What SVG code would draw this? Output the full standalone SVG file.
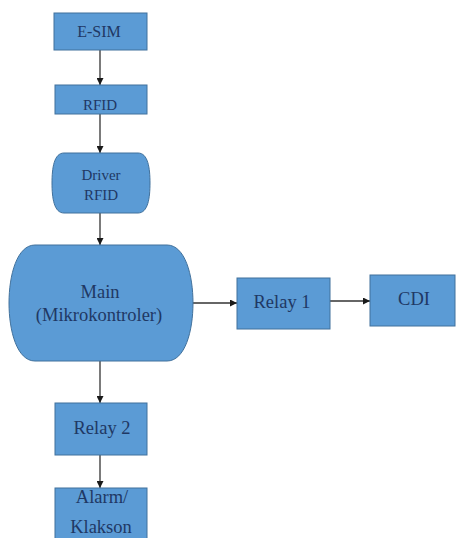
<svg xmlns="http://www.w3.org/2000/svg" width="458" height="538" viewBox="0 0 458 538">
<defs>
<marker id="ah" viewBox="0 0 10 10" refX="10" refY="5" markerWidth="7" markerHeight="7" markerUnits="userSpaceOnUse" orient="auto">
<path d="M0,0 L10,5 L0,10 Z" fill="#1a1a1a"/>
</marker>
<style>
.n{fill:#5b9bd5;stroke:#41719c;stroke-width:1}
.t{font-family:'Liberation Serif','Times New Roman',serif;fill:#1f3864;text-anchor:middle}
.c{stroke:#333;stroke-width:1.3;fill:none;marker-end:url(#ah)}
</style>
</defs>
<rect width="458" height="538" fill="#fff"/>
<g id="connectors">
<line class="c" x1="100" y1="50" x2="100" y2="85"/>
<line class="c" x1="100" y1="114" x2="100" y2="153"/>
<line class="c" x1="100" y1="213" x2="100" y2="245"/>
<line class="c" x1="193" y1="303" x2="237" y2="303"/>
<line class="c" x1="330" y1="301" x2="370" y2="301"/>
<line class="c" x1="100" y1="361" x2="100" y2="403"/>
<line class="c" x1="100" y1="455" x2="100" y2="488"/>
</g>
<g id="esim"><rect class="n" x="54" y="13" width="93" height="37"/><text class="t" x="99" y="37" font-size="16">E-SIM</text></g>
<g id="rfid"><rect class="n" x="55" y="85" width="92" height="29"/><text class="t" x="100" y="110" font-size="15">RFID</text></g>
<g id="driver"><path class="n" d="M64,153 H138 C148,153 150,168 150,183 C150,198 148,213 138,213 H64 C54,213 52,198 52,183 C52,168 54,153 64,153 Z"/><text class="t" x="101" y="180" font-size="15">Driver</text><text class="t" x="101" y="200" font-size="15">RFID</text></g>
<g id="main"><path class="n" d="M35,245 H167 C185,245 193,275 193,303 C193,331 185,361 167,361 H35 C17,361 9,331 9,303 C9,275 17,245 35,245 Z"/><text class="t" x="100" y="298" font-size="18.5">Main</text><text class="t" x="99" y="321" font-size="18.5">(Mikrokontroler)</text></g>
<g id="relay1"><rect class="n" x="237" y="278" width="93" height="51"/><text class="t" x="282" y="308" font-size="18.5">Relay 1</text></g>
<g id="cdi"><rect class="n" x="370" y="275" width="85" height="51"/><text class="t" x="414" y="305" font-size="18.5">CDI</text></g>
<g id="relay2"><rect class="n" x="55" y="403" width="92" height="52"/><text class="t" x="102" y="434" font-size="18.5">Relay 2</text></g>
<g id="alarm"><rect class="n" x="55" y="488" width="92" height="56"/><text class="t" x="102" y="503" font-size="18.5">Alarm/</text><text class="t" x="101" y="533" font-size="18.5">Klakson</text></g>
</svg>
